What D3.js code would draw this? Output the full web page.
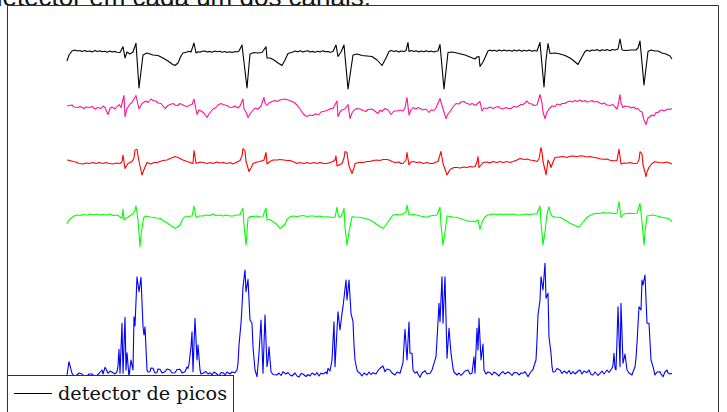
<!DOCTYPE html>
<html><head><meta charset="utf-8">
<script src="https://cdn.jsdelivr.net/npm/d3@7"></script>
<style>html,body{margin:0;padding:0;background:#fff;overflow:hidden}</style>
</head><body><svg id="c" width="727" height="412"></svg>
<script>
// Time axis: sample index t (0..605); value: amplitude relative to each channel's baseline (up positive)
const channelNames = ["canal 1", "canal 2", "canal 3", "canal 4", "detector de picos"];
const channelColors = ["#000000", "#ff1493", "#ff0000", "#00ff00", "#0000ff"];
const legendLabels = ["detector de picos"];
const captionText = "detector em cada um dos canais.";

const ch1 = [[0,-9],[2,-3],[5,1],[8,2],[10,1],[13,1.5],[15,0.5],[18,1.5],[20,0.5],[23,1],[25,0],[28,1.5],[30,0.5],[33,1.2],[35,0.3],[38,0.8],[40,-0.2],[43,1],[45,0],[48,0.6],[50,-0.3],[53,-0.5],[56,5.3],[58,-6],[60,0],[63,-2],[66,0],[69,8.7],[72,-36],[76,-3],[80,-1],[83,-2],[86,-3],[91,-3.5],[96,-6],[101,-9],[105,-12],[108,-13.5],[111,-11],[114,-4],[116,-1],[120,0],[122,0.8],[124,0],[127,9],[129,-1],[131,0.3],[133,-0.3],[135,0.8],[138,1],[140,0],[143,0.6],[145,-0.2],[148,1],[150,0.2],[153,0.8],[155,-0.2],[158,0.5],[160,-0.5],[163,0.3],[165,-0.5],[168,0.5],[170,0],[172,1],[175,7],[180,-36],[183,-2],[187,-0.5],[191,-1],[195,-0.5],[199,5.3],[200,-6],[203,-6],[207,-8],[211,-11],[215,-13.5],[218,-8],[221,-1.5],[226,0],[228,1],[231,0.3],[233,1.2],[236,0],[238,0.8],[241,1.2],[243,0],[246,0.6],[248,-0.2],[251,0.8],[253,0],[256,1.2],[258,0.2],[261,0.5],[263,-0.3],[266,0.5],[269,7],[271,-4.5],[274,0],[277,7],[281,-37],[286,-3],[290,-2],[295,-3.5],[300,-4],[305,-4.5],[310,-8],[315,-13.5],[319,-6],[322,0.5],[324,1.5],[327,0.5],[329,1.3],[332,0],[334,1],[337,0.5],[339,1.5],[341,9.5],[342,0.5],[344,1.5],[347,0.5],[349,1.3],[352,0],[354,1],[357,0.3],[359,1.2],[362,0.2],[364,1],[367,0],[369,0.8],[371,1],[373,7.5],[377,-37],[381,-0.5],[385,0],[390,-1],[394,-2],[398,-3],[403,-5],[408,-7],[410,-5],[412,-4.5],[413,-14.5],[416,-10],[421,1],[423,2],[425,1],[427,1.8],[430,0.8],[432,2],[435,1],[437,2],[440,1],[442,1.8],[445,0.8],[447,2],[450,1],[452,2],[455,0.8],[457,1.8],[460,1],[462,2],[465,0.8],[467,1.5],[470,1],[473,9.5],[477,-35],[479,-8],[481,8.5],[483,-1.5],[488,-1],[493,-2],[498,-3.5],[503,-6],[507,-9],[511,-12.5],[515,-5],[518,0.5],[520,1.8],[523,0.8],[525,2],[528,1.5],[530,2.5],[533,1],[535,2.2],[538,1.5],[540,2.5],[543,1.2],[545,2.5],[548,2],[551,3],[553,13],[555,2],[559,1.5],[564,2],[569,2],[571,4],[573,11],[577,-33],[581,0.5],[584,2],[588,1],[591,1],[595,-1],[599,-2],[603,-4],[605,-7]];

const ch2 = [[0,0],[5,1],[7,-1],[11,-1.5],[13,-0.5],[17,-2.5],[19,-1],[22,-1.5],[25,-0.5],[28,-3],[31,-1.5],[34,-2.5],[36,0],[38,-1.5],[41,-8.5],[43,-2.5],[45,-1],[48,-3],[52,1.5],[54,-1.5],[57,10.5],[58,-10.5],[60,-2.5],[63,2],[65,3.5],[69,10.5],[72,-3],[75,2.5],[79,5],[81,3.5],[84,7],[86,5.5],[89,5],[91,3],[94,2.5],[98,-2.5],[101,0.5],[103,1.5],[106,2.5],[108,1],[111,0.5],[113,2.5],[115,1.5],[118,0],[120,-0.5],[123,1],[125,1.5],[127,7],[130,-8.5],[132,-4],[134,-5],[137,-7],[140,-11.5],[142,-8],[144,-5.5],[146,-3],[149,-1.5],[151,1],[154,2.5],[156,1.5],[160,0.5],[162,-1],[165,-1.5],[168,0],[171,-2],[173,0],[176,7],[177,-3],[179,-6],[181,-11.5],[183,-8],[185,-5.5],[188,-2],[191,-3],[194,0],[197,8.5],[198,3],[200,0.5],[202,3],[205,4.5],[208,5.5],[210,4.5],[213,6],[215,6.5],[218,7],[221,6],[224,5],[227,3.5],[230,1],[233,-3],[236,-7.5],[238,-9.5],[240,-10.5],[243,-9],[246,-9.5],[248,-8],[252,-8.5],[254,-6],[258,-5],[260,-4.5],[264,-2.5],[266,-2.5],[270,5],[271,-10.5],[273,-6],[275,-4],[278,-3],[281,1.5],[283,-12.5],[285,-7],[287,-4],[290,-2.5],[293,-3],[296,-4.5],[299,-5.5],[301,-3.5],[305,-3],[307,-4.5],[311,-7.5],[313,-4],[315,-5.5],[318,-2.5],[321,-4],[324,-8.5],[327,-5],[330,-5],[333,-4],[336,-5],[338,-2],[340,8.5],[342,-9],[344,-4],[346,-1.5],[349,-3],[351,-1.5],[354,-3],[356,-4],[359,-3],[362,-6.5],[364,-4],[367,-4.5],[369,-2],[373,7.5],[375,0.5],[377,-6],[379,-12.5],[381,-8],[383,-5.5],[386,-1],[389,2.5],[392,2],[394,4],[397,4.5],[399,3],[403,1.5],[405,2.5],[409,0.5],[410,2],[413,4.5],[415,-5],[417,-2],[420,-2.5],[423,-1],[426,-2.5],[428,-1.5],[431,-0.5],[433,-2],[436,-3],[439,-1.5],[441,-2.5],[444,-2.5],[447,-0.5],[450,-1],[454,1.5],[456,1.5],[458,3],[460,5],[462,2.5],[465,2],[467,0.5],[470,1],[473,11.5],[475,3],[476,-6],[478,-12.5],[480,-6],[482,-3],[485,0],[488,-0.5],[490,2],[493,1],[495,2.5],[498,2.5],[500,4],[503,5],[505,4],[508,5.5],[510,4.5],[513,6],[515,4.5],[518,5.5],[520,4],[522,4.5],[525,5.5],[527,4],[530,4.5],[532,3.5],[535,2],[537,3],[540,1],[543,0.5],[546,1.5],[548,-1],[550,-3],[551,0],[553,11.5],[554,3],[556,-1.5],[558,0],[562,-0.5],[564,-2],[567,-1],[569,-3],[571,-2.5],[573,-5],[575,-6],[577,-14],[579,-18.5],[581,-12],[583,-10.5],[585,-9],[587,-10],[589,-6.5],[591,-6.5],[593,-4.5],[595,-4],[597,-5],[601,-3],[603,-3.5],[605,-2.5]];

const ch3 = [[0,3],[3,2.5],[6,1.5],[9,1],[12,-0.5],[16,-1],[19,0],[22,-0.5],[26,0.5],[29,-0.5],[32,0.5],[36,-0.5],[39,0.5],[42,-0.5],[46,-1],[49,0],[53,-0.5],[55,1],[56,8],[58,-5.5],[61,-0.5],[65,1.5],[67,5],[68,13],[70,13.5],[72,1.5],[75,-12],[77,-6.5],[80,0.5],[84,-1],[87,0.5],[90,0.5],[93,1.5],[96,2.5],[100,3],[103,4.5],[106,5.5],[108,6.5],[111,5.5],[113,4.5],[116,3],[120,1.5],[123,0.5],[126,-0.5],[127,12.5],[129,-0.5],[133,1],[136,0.5],[140,-0.5],[143,0.5],[146,-0.5],[150,1],[153,0],[156,0.5],[160,-0.5],[163,0.5],[166,-1],[170,1],[173,2.5],[175,7],[176,14.5],[178,12],[179,1.5],[181,-5],[182,-8.5],[184,-5],[186,-0.5],[190,1],[193,1.5],[197,3],[199,10.5],[200,-1],[203,1.5],[206,3],[210,3],[213,3.5],[217,3],[220,2.5],[223,2.5],[227,1],[230,-0.5],[233,0.5],[237,-0.5],[240,0.5],[243,-0.5],[247,0.5],[250,-0.5],[253,0.5],[257,-0.5],[260,-0.5],[263,0.5],[266,1.5],[268,3],[269,7],[270,-3],[275,-0.5],[277,5],[278,11.5],[280,10.5],[281,3],[282,-3],[285,-10.5],[287,-5],[288,-0.5],[292,0.5],[296,0.5],[300,1.5],[303,1.5],[306,2.5],[310,3],[313,2.5],[316,3.5],[320,3.5],[322,3],[325,1.5],[328,0.5],[332,1],[334,-0.5],[336,-0.5],[339,3],[340,10.5],[342,-2],[344,1],[346,1.5],[350,0.5],[353,1],[356,-0.5],[360,0.5],[363,-0.5],[366,-0.5],[369,1],[371,1.5],[374,11.5],[376,-0.5],[378,-6],[380,-12],[383,-6.5],[387,-4.5],[390,-4.5],[393,-5],[397,-4],[400,-4.5],[403,-3.5],[406,-4],[408,-3.5],[410,1],[411,6.5],[412,-4.5],[415,-1],[416,0.5],[420,1],[423,0],[426,1.5],[430,0.5],[433,1.5],[436,0.5],[440,1.5],[443,0.5],[446,1.5],[450,3],[453,4.5],[457,3.5],[460,4],[463,3],[467,2.5],[470,1.5],[472,4],[474,15.5],[475,11],[476,1.5],[478,-7],[479,-12],[480,-5],[481,3],[483,-1],[484,-4.5],[486,1],[488,5.5],[492,6],[496,6.5],[500,5.5],[503,6.7],[506,7],[510,6.3],[513,7.2],[516,7],[520,6],[523,6.5],[526,5.7],[530,5],[533,4.2],[536,3.7],[540,4],[543,2.8],[546,2.3],[550,2.3],[552,13.7],[554,-1],[557,0],[560,-0.3],[563,0.5],[567,-0.5],[570,-0.3],[572,3],[573,11.3],[575,9],[576,-2],[578,-9],[579,-13.7],[580,-9],[582,-4.3],[585,-0.5],[588,1.3],[592,0.5],[596,0.3],[600,1],[605,-1]];

const ch4 = [[0,-9],[2,-5],[5,-2.3],[7,-1],[10,0],[13,-0.5],[16,0.5],[20,0],[23,1],[26,0],[30,1],[33,0],[36,0.5],[40,0],[43,1],[46,-0.5],[50,0],[52,-1],[55,-3.3],[56,5.7],[57,-5],[59,-3],[61,-2.3],[64,0],[66,1],[68,5],[69,9],[71,-5],[73,-31.7],[74,-20],[76,-6.7],[77,-2],[79,-1],[83,-2],[86,-2.3],[89,-3],[93,-3.3],[96,-5.5],[100,-7.7],[103,-10],[106,-12],[108,-13.3],[110,-12.5],[113,-10],[115,-5],[118,-1.7],[121,-1.5],[125,-1],[127,9],[129,-2.3],[132,-1],[136,-1],[139,0],[143,-0.5],[146,1],[149,-0.5],[153,0],[156,-1],[159,0],[163,-1],[166,-1],[169,0],[173,0],[174,3],[176,6.7],[177,-10],[179,-30],[180,-17],[181,-3.3],[183,-1.5],[186,-1.5],[190,-1],[193,-2],[196,-1.7],[197,2],[199,6.7],[200,-5],[203,-4.5],[206,-6.7],[210,-9.5],[213,-13.3],[215,-12],[218,-9],[220,-4.5],[223,-1.7],[226,-1],[230,-1.5],[233,-1],[236,-0.5],[240,-1.5],[243,-1],[246,-1],[250,-1.5],[253,-1],[256,-2],[260,-1.7],[263,-2],[266,-2.5],[268,-2.3],[270,7.7],[271,1],[272,-2.3],[274,-1.5],[276,3],[277,6.7],[278,-13],[280,-30],[282,-17],[285,-1.7],[288,-2],[293,-2.3],[298,-3.5],[303,-5],[308,-8],[313,-11.7],[316,-13.3],[319,-10],[321,-6.7],[324,-2.5],[326,0],[330,0.5],[333,0],[336,1],[339,3],[340,10],[342,0],[346,0.5],[350,0],[353,-1],[356,-1.5],[360,-2.3],[363,-1],[366,-0.5],[370,0],[371,3],[373,7.7],[374,-10],[376,-30],[378,-17],[380,-1],[383,-1.5],[386,-2],[390,-2.3],[393,-3.5],[396,-4.5],[400,-5.7],[403,-6.5],[406,-6],[408,-6.7],[411,-5],[413,-14.3],[415,-7],[418,-1.7],[421,0],[426,1],[430,0.5],[433,1],[436,0.5],[440,1],[443,0.5],[446,1],[450,0],[453,0],[456,0.5],[460,1],[463,0.5],[466,1],[470,1],[471,4],[473,9],[474,-7],[476,-30],[478,-17],[480,1],[481,5],[482,8.3],[483,3],[485,-1],[488,-2],[493,-2.3],[498,-5],[503,-8.3],[508,-10.5],[512,-12.3],[516,-7],[520,-2.3],[523,-0.5],[526,1],[530,1.7],[533,1.5],[536,2.5],[540,2],[543,2.3],[546,1.5],[550,1.7],[552,13.3],[554,-2.3],[557,1],[560,1.5],[563,1.7],[566,1.5],[570,1.7],[571,5],[573,11.7],[575,-7],[577,-30],[578,-17],[580,-1],[583,-0.5],[586,0],[590,-1],[595,-2.3],[599,-3],[603,-4.3],[605,-6.7]];

const ch5 = [[0,0],[2,13.3],[5,1.7],[7,-1],[10,0],[12,2],[15,1],[17,-1.5],[20,-1],[22,1],[25,1],[27,-1],[30,-0.3],[32,1.5],[35,5],[36,1],[38,7.7],[39,6],[41,1.7],[43,4],[46,2.3],[48,1],[50,3.3],[51,9],[52,25.7],[53,1.7],[55,51.7],[56,1.7],[58,57.7],[59,5],[60,22.3],[62,-1.7],[64,15],[66,5],[67,58.3],[68,49],[70,98.3],[72,83.3],[74,97.7],[76,48.3],[77,40],[78,48.3],[80,5],[81,3],[83,3.3],[84,7],[86,6.7],[88,2],[90,2.3],[91,6],[93,5.7],[95,2],[98,3.3],[100,6],[103,5],[105,2],[108,2.3],[110,5.5],[113,5.7],[115,2],[118,3.3],[120,8],[121,6.7],[122,11],[124,28.3],[125,43.3],[126,3.3],[128,56.7],[130,15],[131,30],[133,5],[134,1],[136,1.7],[139,3.5],[141,1],[143,2.3],[145,0],[147,3],[150,1],[152,-1],[154,2.5],[156,2.3],[158,0],[160,3],[163,1],[165,3],[168,2.3],[170,5],[171,11.7],[172,30],[174,51.7],[175,68.3],[176,88.3],[178,105],[179,83.3],[181,95.7],[183,55],[185,51.7],[186,28.3],[188,5],[190,-1.7],[192,21.7],[194,55],[196,1.7],[198,60],[200,8.3],[201,15],[202,28.3],[204,3.3],[206,0.5],[210,0],[212,2],[214,-0.5],[216,3.3],[219,1],[221,2.5],[223,0],[225,-1],[228,2],[230,-1],[232,-2],[234,1.5],[236,1],[239,-1.5],[241,0.5],[243,-1],[245,2],[248,0],[250,2.3],[252,-1],[254,2],[256,1],[259,3],[260,1],[261,6.7],[263,4],[265,15],[267,53.3],[268,8.3],[271,63.3],[273,45],[275,61.7],[276,68.3],[279,95],[280,75],[282,95],[284,61.7],[286,53.3],[287,30],[288,15],[290,5],[291,3],[293,1.7],[295,-1],[297,2],[300,0],[302,3],[304,0.5],[306,2.3],[309,1],[311,4.5],[313,6.7],[316,9],[318,3.3],[320,6],[323,5],[325,2],[328,0],[330,3],[333,1.7],[334,5],[336,12.3],[337,30],[338,45.7],[340,15],[342,53],[343,21.7],[345,21.7],[346,5],[348,2],[350,3.3],[351,1],[353,-2.3],[355,2],[358,4.3],[360,1],[363,1.7],[365,5],[367,11.7],[369,18.3],[370,35],[372,71.7],[373,53.3],[375,98.3],[376,51.7],[378,98.3],[380,16.7],[382,46.7],[384,21.7],[386,6.7],[387,3],[390,0],[392,2],[394,-0.5],[396,1.7],[398,4],[401,5],[403,1],[405,1.7],[407,18.3],[408,1.7],[410,46.7],[411,25],[412,56.7],[414,15],[416,31],[417,5],[419,1],[421,3],[423,2.3],[425,0],[427,3],[430,1],[432,-1],[434,2],[436,3.3],[438,1],[441,3],[443,1.7],[445,-0.5],[447,2.5],[450,2.3],[452,0],[454,2],[456,1.7],[458,3.5],[461,-1.7],[463,2],[466,5.7],[467,9],[469,15],[470,35],[471,60],[473,75],[474,98.3],[476,85],[478,111.7],[479,76.7],[481,81.7],[482,38.3],[484,21.7],[485,8.3],[486,3],[488,3.3],[490,6.5],[493,5],[495,1.5],[497,4],[500,1.7],[502,4.5],[504,1],[506,3.3],[508,1],[511,4],[513,5],[515,1],[517,4],[520,2.3],[522,5],[524,0.5],[526,0],[528,3],[531,-0.5],[533,1.7],[535,4],[537,1],[540,5],[542,2.5],[545,6.7],[546,10],[547,21.7],[548,7],[549,5],[550,35],[551,68.3],[553,8.3],[554,71.7],[556,11.7],[558,21],[560,5],[562,2],[565,0],[566,3],[568,8.3],[569,17],[570,31.7],[572,68.3],[574,65],[575,95],[576,90],[578,100],[580,51.7],[582,51.7],[584,15],[586,8.3],[588,0],[590,3],[593,3.3],[594,1],[596,-1.7],[598,3],[600,5],[601,2],[603,1],[605,1.7]];

const channels = [ch1, ch2, ch3, ch4, ch5];

// ---------- layout ----------
const W = 727, H = 412;
const plot = {x0: 67, x1: 672, yTop: 52, yBot: 375};
const offsets = [323, 269, 212, 160, 0]; // vertical stacking of channels (amplitude units)

const svg = d3.select("#c");
const x = d3.scaleLinear().domain([0, 605]).range([plot.x0, plot.x1]);
const y = d3.scaleLinear().domain([0, 323]).range([plot.yBot, plot.yTop]);

// caption (text of the document above, cut off at the top edge)
svg.append("text")
  .attr("x", 371).attr("y", 6)
  .attr("text-anchor", "end")
  .attr("font-family", "Liberation Sans, Arial, sans-serif")
  .attr("font-size", 26)
  .attr("fill", "#111")
  .text(captionText);

// frame
const frameColor = "#333";
svg.append("path")
  .attr("d", `M7.5,${H+5} V5.5 H718.5 V${H+5}`)
  .attr("fill", "none").attr("stroke", frameColor).attr("stroke-width", 1);

// traces
const line = (k) => d3.line()
  .x(d => x(d[0]))
  .y(d => y(offsets[k] + d[1]));

channels.forEach((data, k) => {
  svg.append("path")
    .datum(data)
    .attr("fill", "none")
    .attr("stroke", channelColors[k])
    .attr("stroke-width", 1.1)
    .attr("stroke-linejoin", "round")
    .attr("d", line(k)(data));
});

// legend
const lg = svg.append("g");
lg.append("rect").attr("x", 7.5).attr("y", 375.5).attr("width", 226).attr("height", 50)
  .attr("fill", "#fff").attr("stroke", frameColor).attr("stroke-width", 1);
lg.append("line").attr("x1", 14).attr("x2", 52).attr("y1", 393.5).attr("y2", 393.5)
  .attr("stroke", "#000").attr("stroke-width", 1);
lg.append("text").attr("x", 58).attr("y", 400)
  .attr("font-family", "DejaVu Serif, Liberation Serif, serif")
  .attr("font-size", 19.3)
  .attr("fill", "#111")
  .text(legendLabels[0]);
</script></body></html>
